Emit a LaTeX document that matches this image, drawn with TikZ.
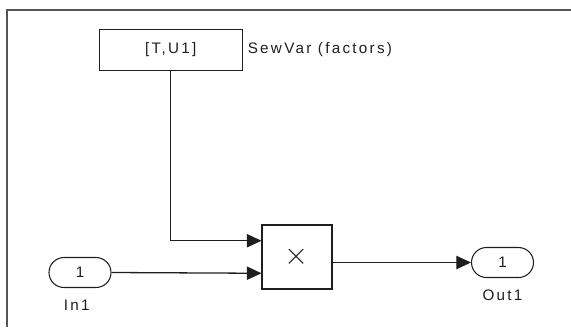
\documentclass[tikz,border=0pt]{standalone}
\usepackage{fontspec}
\setmainfont{Liberation Sans}[LetterSpace=15]
\usepackage{tikz}
\usetikzlibrary{arrows.meta,calc,positioning}
\definecolor{InkBlack}{RGB}{30,30,30}
\definecolor{FrameGray}{RGB}{85,85,85}

\begin{document}
\begin{tikzpicture}[>={Triangle[length=0.44cm,width=0.4cm]},x=0.03cm,y=-0.03cm,
  every node/.style={font=\fontsize{13}{15}\selectfont,text=InkBlack},
  blk/.style={draw=InkBlack,line width=0.9pt,inner sep=0pt},
  port/.style={draw=InkBlack,line width=0.9pt,rounded corners=0.45cm,minimum width=1.86cm,minimum height=0.9cm,inner sep=0pt},
  wire/.style={draw=InkBlack,line width=1.1pt},
  tag/.style={inner sep=0pt}]
\useasboundingbox (0,0) rectangle (571,327);
\draw[FrameGray,line width=1.5pt] (7,327) -- (7,10) -- (571,10);
% blocks
\node[blk,minimum width=4.28cm,minimum height=1.22cm] (src) at (170.7,49.7) {[T,U1]};
\node[tag,right=0.15cm of src] (srclbl) {SewVar (factors)};
\node[blk,minimum width=2.1cm,minimum height=1.92cm] (prod) at (297,257) {\scalebox{2.2}{$\times$}};
\node[port] (in1) at (80,272.5) {1};
\node[tag,below=0.36cm of in1,xshift=-0.1cm] (in1lbl) {In1};
\node[port] (out1) at (502.5,262.5) {1};
\node[tag,below=0.36cm of out1] (out1lbl) {Out1};
% wires
\coordinate (prodA) at ($(prod.north west)!0.25!(prod.south west)$);
\coordinate (prodB) at ($(prod.north west)!0.75!(prod.south west)$);
\draw[wire,->] (src.south) |- (prodA);
\draw[wire,->] (in1.east) -- (prodB);
\draw[wire,->] (prod.east |- out1.west) -- (out1.west);
\end{tikzpicture}
\end{document}
